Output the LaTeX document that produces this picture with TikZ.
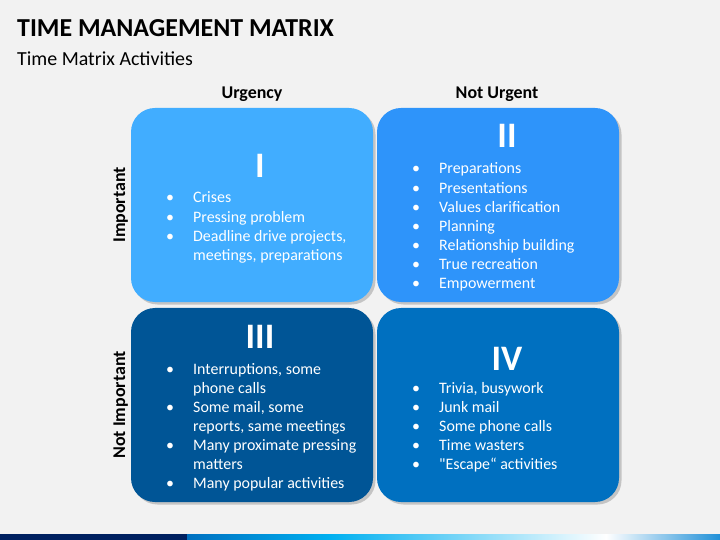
\documentclass[tikz,border=0pt]{standalone}
\usepackage{fontspec}
\setmainfont{Carlito}
\usetikzlibrary{shadows}

\definecolor{slidebg}{RGB}{242,242,242}
\definecolor{qone}{RGB}{65,173,255}
\definecolor{qtwo}{RGB}{46,148,250}
\definecolor{qthree}{RGB}{0,85,150}
\definecolor{qfour}{RGB}{0,112,192}
\definecolor{navy}{RGB}{0,32,96}
\definecolor{stripecyan}{RGB}{0,176,240}
\definecolor{stripeend}{RGB}{32,144,216}

\begin{document}
\begin{tikzpicture}[x=1bp,y=-1bp,
  quad/.style={rounded corners=24bp,minimum width=242bp,minimum height=194bp,inner sep=0pt,
    drop shadow={shadow xshift=2.5bp,shadow yshift=-2.5bp,opacity=0.4}},
  numeral/.style={text=white,font=\bfseries\fontsize{36}{36}\selectfont,anchor=base,inner sep=0pt},
  items/.style={text=white,font=\fontsize{16}{19.2}\selectfont,anchor=base west,inner sep=0pt},
  axis/.style={font=\bfseries\fontsize{18}{20}\selectfont,anchor=base,inner sep=0pt}]
				\fill[slidebg] (0,0) rectangle (720,540);
				\useasboundingbox (0,0) rectangle (720,540);
				% title
				\node[anchor=base west,inner sep=0pt,font=\bfseries\fontsize{26}{30}\selectfont] (title) at (17,37) {TIME MANAGEMENT MATRIX};
				\node[anchor=base west,inner sep=0pt,font=\fontsize{20}{24}\selectfont] (subtitle) at (17,66) {Time Matrix Activities};
				% axis labels
				\node[axis] (urgency) at (252,99) {Urgency};
				\node[axis] (noturgent) at (497,99) {Not Urgent};
				\node[axis,rotate=90] (important) at (125,205) {Important};
				\node[axis,rotate=90] (notimportant) at (125,405) {Not Important};
				% quadrants
				\node[quad,fill=qone] (qI) at (252,205) {};
				\node[quad,fill=qtwo] (qII) at (498,205) {};
				\node[quad,fill=qthree] (qIII) at (252,405) {};
				\node[quad,fill=qfour] (qIV) at (498,405) {};
				\node[numeral] (nI) at (260,178) {I};
				\node[numeral] (nII) at (507,148) {II};
				\node[numeral] (nIII) at (260,348) {III};
				\node[numeral] (nIV) at (507,370) {IV};
				\node[items] (listI) at (166,203) {\begin{tabular}[t]{@{}p{27bp}@{}l@{}}
					\textbullet & Crises\\
					\textbullet & Pressing problem\\
					\textbullet & Deadline drive projects,\\
					 & meetings, preparations
				\end{tabular}};
				\node[items] (listII) at (412,174) {\begin{tabular}[t]{@{}p{27bp}@{}l@{}}
					\textbullet & Preparations\\
					\textbullet & Presentations\\
					\textbullet & Values clarification\\
					\textbullet & Planning\\
					\textbullet & Relationship building\\
					\textbullet & True recreation\\
					\textbullet & Empowerment
				\end{tabular}};
				\node[items] (listIII) at (166,374) {\begin{tabular}[t]{@{}p{27bp}@{}l@{}}
					\textbullet & Interruptions, some\\
					 & phone calls\\
					\textbullet & Some mail, some\\
					 & reports, same meetings\\
					\textbullet & Many proximate pressing\\
					 & matters\\
					\textbullet & Many popular activities
				\end{tabular}};
				\node[items] (listIV) at (412,393) {\begin{tabular}[t]{@{}p{27bp}@{}l@{}}
					\textbullet & Trivia, busywork\\
					\textbullet & Junk mail\\
					\textbullet & Some phone calls\\
					\textbullet & Time wasters\\
					\textbullet & \textquotedbl Escape“ activities
				\end{tabular}};
				% bottom stripe
				\fill[navy] (0,534) rectangle (187,540);
				\shade[left color=qfour,right color=stripecyan] (187,534) rectangle (330,540);
				\shade[left color=stripecyan,right color=white] (330,534) rectangle (606,540);
				\shade[left color=white,right color=stripeend] (606,534) rectangle (720,540);
			\end{tikzpicture}
\end{document}
